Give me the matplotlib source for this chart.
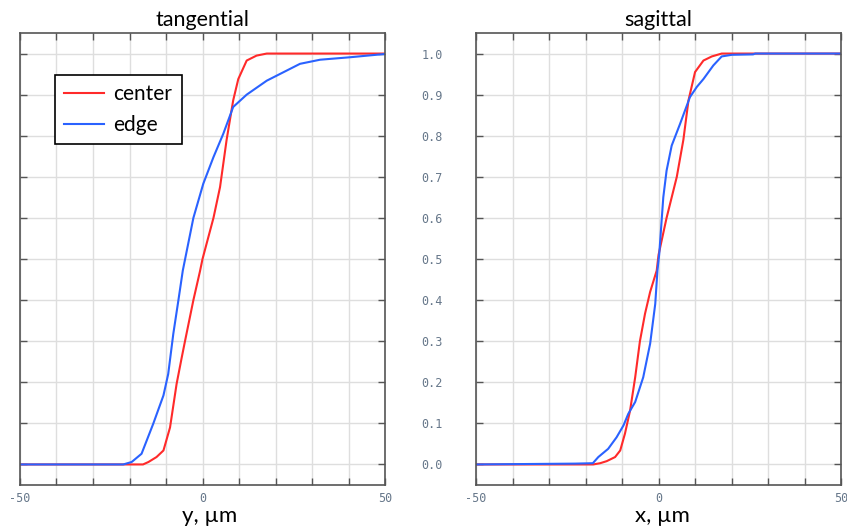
import numpy as np
import matplotlib
matplotlib.use('Agg')
import matplotlib.pyplot as plt
from matplotlib.ticker import FuncFormatter, MultipleLocator

plt.rcParams['font.family'] = ['Lato', 'DejaVu Sans']

# tangential, center
tan_center_x = [-50, -16.3, -14.8, -12.6, -10.7, -8.9, -7.1, -5.7, -4.8, -2.5, -0.7, 0.0,
                3.0, 4.8, 6.6, 8.4, 9.8, 12.1, 14.8, 17.6, 50]
tan_center_y = [0.0, 0.0, 0.006, 0.018, 0.034, 0.09, 0.196, 0.26, 0.30, 0.40, 0.47, 0.50,
                0.60, 0.675, 0.79, 0.886, 0.938, 0.983, 0.995, 1.0, 1.0]
# tangential, edge
tan_edge_x = [-50, -21.7, -19.4, -16.7, -13.5, -10.7, -9.4, -8.0, -6.6, -5.4, -2.5, 0.2,
              3.0, 5.7, 8.4, 12.1, 17.6, 26.7, 32.2, 40.4, 50]
tan_edge_y = [0.0, 0.0, 0.006, 0.026, 0.099, 0.168, 0.22, 0.318, 0.40, 0.472, 0.60, 0.683,
              0.748, 0.805, 0.87, 0.90, 0.934, 0.975, 0.985, 0.991, 0.999]
# sagittal, center
sag_center_x = [-50, -17.9, -16.0, -14.2, -11.9, -10.5, -9.2, -7.8, -6.4, -5.1, -3.7, -2.3,
                -0.5, 0.0, 2.2, 5.0, 6.8, 8.2, 10.0, 12.3, 14.6, 17.3, 50]
sag_center_y = [0.0, 0.0, 0.003, 0.008, 0.018, 0.034, 0.075, 0.131, 0.212, 0.30, 0.367, 0.42,
                0.472, 0.51, 0.60, 0.70, 0.79, 0.886, 0.955, 0.983, 0.993, 1.0, 1.0]
# sagittal, edge
sag_edge_x = [-50, -22.9, -18.0, -16.5, -13.8, -11.5, -9.6, -8.3, -6.4, -4.2, -2.3, -0.9,
              -0.3, 0.2, 1.3, 2.2, 3.6, 5.9, 8.6, 10.5, 12.3, 15.0, 17.3, 20.1, 25.9, 26.5, 50]
sag_edge_y = [0.0, 0.002, 0.003, 0.018, 0.038, 0.066, 0.095, 0.123, 0.152, 0.212, 0.294, 0.391,
              0.472, 0.513, 0.65, 0.715, 0.776, 0.829, 0.894, 0.919, 0.938, 0.971, 0.993, 0.997,
              0.998, 1.0, 1.0]

titles = ['tangential', 'sagittal']
xlabels = ['y, µm', 'x, µm']
series = [(tan_center_x, tan_center_y, tan_edge_x, tan_edge_y),
          (sag_center_x, sag_center_y, sag_edge_x, sag_edge_y)]

red = '#ff2a2a'
blue = '#2a62ff'
spine_c = '#555555'
tick_c = '#66778a'

fig = plt.figure(figsize=(8.47, 5.29), dpi=100)
lefts = [0.0236, 0.562]
label_x = [0.52, 0.512]

for k in range(2):
    ax = fig.add_axes([lefts[k], 0.0832, 0.431, 0.8544])
    cx, cy, ex, ey = series[k]
    ax.plot(cx, cy, color=red, lw=1.5, label='center')
    ax.plot(ex, ey, color=blue, lw=1.5, label='edge')
    ax.set_xlim(-50, 50)
    ax.set_ylim(-0.05, 1.05)
    ax.xaxis.set_major_locator(MultipleLocator(10))
    ax.yaxis.set_major_locator(MultipleLocator(0.1))
    ax.xaxis.set_major_formatter(FuncFormatter(
        lambda v, p: '%d' % round(v) if round(v) in (-50, 0, 50) else ''))
    if k == 1:
        ax.yaxis.set_major_formatter(FuncFormatter(
            lambda v, p: '%.1f' % v if -0.01 < v < 1.01 else ''))
    else:
        ax.set_yticklabels([])
    ax.grid(True, color='#dedede', lw=1)
    ax.set_axisbelow(True)
    ax.tick_params(direction='in', length=5, width=1, color=spine_c,
                   top=True, right=True, labelsize=8.5, labelcolor=tick_c)
    ax.tick_params(axis='x', pad=5)
    ax.tick_params(axis='y', pad=24)
    for lab in ax.get_xticklabels() + ax.get_yticklabels():
        lab.set_family('DejaVu Sans Mono')
    for s in ax.spines.values():
        s.set_color(spine_c)
        s.set_linewidth(1.2)
    ax.set_title(titles[k], fontsize=15.5, pad=5)
    ax.set_xlabel(xlabels[k], fontsize=16)
    ax.xaxis.set_label_coords(label_x[k], -0.046)
    if k == 0:
        leg = ax.legend(loc='upper left', bbox_to_anchor=(0.096, 0.907), fontsize=15,
                        fancybox=False, framealpha=1, edgecolor='black', borderaxespad=0,
                        handlelength=1.9, handletextpad=0.45, borderpad=0.45,
                        labelspacing=0.5)
        leg.get_frame().set_linewidth(1.2)

fig.savefig('out.png', dpi=100)
